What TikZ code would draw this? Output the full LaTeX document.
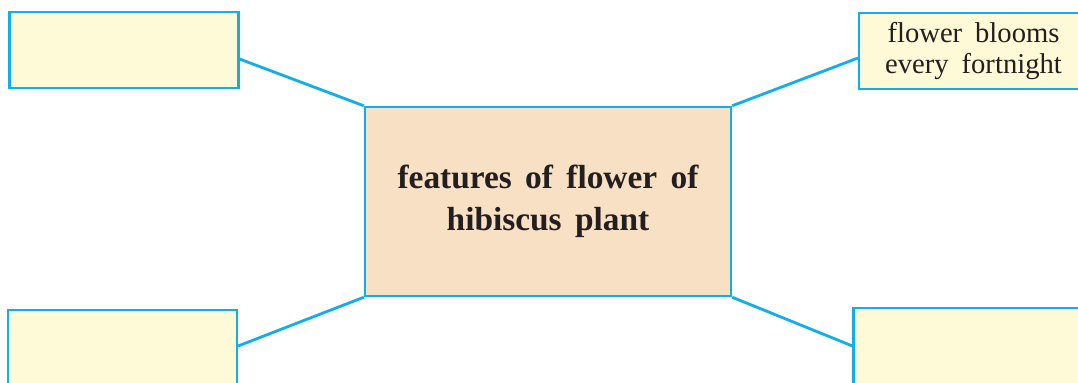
\documentclass[tikz,border=0pt]{standalone}
\usepackage{fontspec}
\setmainfont{Liberation Serif}
\usetikzlibrary{positioning,calc}
\definecolor{cyanline}{HTML}{12AEEA}
\definecolor{pale}{HTML}{FEFAD7}
\definecolor{tan}{HTML}{F7E0C3}
\definecolor{ink}{HTML}{231F20}
\newcommand\widewords[1]{\spaceskip=#1\relax}
\tikzset{
  featbox/.style={draw=cyanline,line width=1.2pt,fill=pale,minimum width=4.58cm,
    minimum height=1.52cm,inner sep=0pt,align=center,text=ink},
  link/.style={cyanline,line width=1.6pt}
}

\begin{document}
\begin{tikzpicture}[x=0.02cm,y=-0.02cm]
    \useasboundingbox (0,0) rectangle (1078,382);
    \clip (0,0) rectangle (1078,382);
    \node[draw=cyanline,line width=1.4pt,fill=tan,minimum width=7.32cm,minimum height=3.78cm,
      align=center,text=ink,font=\fontsize{19}{24}\selectfont\bfseries\widewords{0.4em}]
      (centre) at (548,201.5) {features of flower of\\hibiscus plant};

    \node[featbox] (boxtl) at (124,50) {};
    \node[featbox,font=\fontsize{16.3}{17.5}\selectfont\widewords{0.45em}] (boxtr) at (973.5,51)
      {flower blooms\\every fortnight};
    \node[featbox] (boxbl) at (122.5,348) {};
    \node[featbox] (boxbr) at (968,346) {};

    \draw[link] ($(boxtl.east)+(0,9)$) -- (centre.north west);
    \draw[link] ($(boxtr.west)+(0,7)$) -- (centre.north east);
    \draw[link] ($(boxbl.east)+(0,-2)$) -- (centre.south west);
    \draw[link] (boxbr.west) -- (centre.south east);
\end{tikzpicture}
\end{document}
